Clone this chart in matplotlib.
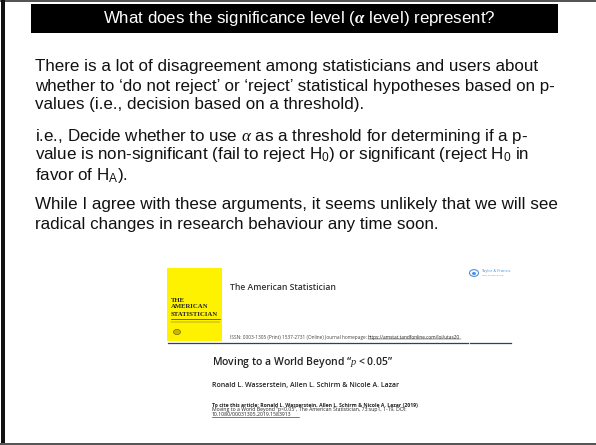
import matplotlib
matplotlib.use("Agg")
import matplotlib.pyplot as plt
from matplotlib.patches import Rectangle, Circle
from matplotlib.lines import Line2D

# slide content
title = r"What does the significance level ($\mathbfit{\alpha}$ level) represent?"
body_lines = [
    "There is a lot of disagreement among statisticians and users about",
    "whether to \u2018do not reject\u2019 or \u2018reject\u2019 statistical hypotheses based on p-",
    "values (i.e., decision based on a threshold).",
    r"i.e., Decide whether to use $\alpha$ as a threshold for determining if a p-",
    r"value is non-significant (fail to reject H$_0$) or significant (reject H$_0$ in",
    r"favor of H$_\mathrm{A}$).",
    "While I agree with these arguments, it seems unlikely that we will see",
    "radical changes in research behaviour any time soon.",
]
body_y = [67, 86, 105, 136, 155, 175, 205, 224]

cover_words = ["THE", "AMERICAN", "STATISTICIAN"]
journal = "The American Statistician"
issn = "ISSN: 0003-1305 (Print) 1537-2731 (Online) Journal homepage: "
issn_url = "https://amstat.tandfonline.com/loi/utas20"
paper_title = "Moving to a World Beyond \u201c$p$ < 0.05\u201d"
authors = "Ronald L. Wasserstein, Allen L. Schirm & Nicole A. Lazar"
cite_lines = [
    "To cite this article: Ronald L. Wasserstein, Allen L. Schirm & Nicole A. Lazar (2019)",
    "Moving to a World Beyond \u201cp<0.05\u201d, The American Statistician, 73:sup1, 1-19, DOI:",
    "10.1080/00031305.2019.1583913",
]

W, H = 596, 445
plt.rcParams["font.family"] = ["Liberation Sans", "DejaVu Sans"]
plt.rcParams["mathtext.fontset"] = "custom"
plt.rcParams["mathtext.rm"] = "Liberation Sans"
plt.rcParams["mathtext.it"] = "Liberation Serif:italic"
plt.rcParams["mathtext.bf"] = "Liberation Sans:bold"
plt.rcParams["mathtext.bfit"] = "Liberation Serif:italic:bold"

fig = plt.figure(figsize=(W / 100, H / 100), dpi=100)
fig.patch.set_facecolor("white")


def px(x, y):
    # pixel coords (from top-left) -> figure fraction
    return x / W, 1 - y / H


def rect(x0, y0, x1, y1, **kw):
    fig.patches.append(Rectangle(px(x0, y1), (x1 - x0) / W, (y1 - y0) / H,
                                 transform=fig.transFigure, **kw))


def hline(x0, x1, y, **kw):
    fig.lines.append(Line2D([x0 / W, x1 / W], [1 - y / H, 1 - y / H],
                            transform=fig.transFigure, **kw))


# slide frame
rect(0, 0, W, 1.5, color="#555555", lw=0)
rect(1, 0, 5, H, color="#111111", lw=0)
rect(0, H - 2.5, W, H, color="#555555", lw=0)

# title bar
rect(31, 4, 558, 33, color="black", lw=0)
fig.text(*px(299, 19), title, color="white", fontsize=12.2,
         ha="center", va="center")

# body text
for line, y in zip(body_lines, body_y):
    fig.text(*px(35, y), line, color="#111111", fontsize=12.25,
             ha="left", va="center")

# article first page snapshot
rect(167, 268, 222, 341, color="#fff200", lw=0)
for i, w in enumerate(cover_words):
    fig.text(*px(171, 300 + i * 7), w, fontsize=4.9, family="Liberation Serif",
             weight="bold", color="#222222", va="center")
hline(171, 220, 319, color="#333333", lw=0.5)
hline(171, 220, 322, color="#555555", lw=0.3)
fig.patches.append(Circle(px(177, 332), 3.5 / W, transform=fig.transFigure,
                          fc="#c9b800", ec="#555500", lw=0.4))

fig.text(*px(230, 287), journal, family="Open Sans", fontsize=6.2,
         weight="semibold", color="#333333", va="center")
fig.text(*px(230, 337), issn, family="Open Sans", fontsize=3.45,
         color="#444444", va="center")
fig.text(*px(368, 337), issn_url, family="Open Sans", fontsize=3.45,
         color="#222222", va="center")
hline(368, 461, 339.3, color="#222222", lw=0.3)

# Taylor & Francis logo
fig.patches.append(Circle(px(474, 273), 4.5 / W, transform=fig.transFigure,
                          fc="white", ec="#4a90e2", lw=0.8))
fig.patches.append(Circle(px(474, 273.5), 2 / W, transform=fig.transFigure,
                          fc="#4a90e2", ec="none"))
fig.text(*px(481, 271), "Taylor & Francis", family="Open Sans", fontsize=2.9,
         color="#4a90e2", va="center")
fig.text(*px(481, 275.5), "Taylor & Francis Group", family="Open Sans",
         fontsize=1.5, color="#4a90e2", va="center")

hline(168, 468, 342.5, color="#2c3e7a", lw=0.9)
hline(470, 511, 342.5, color="#2c3e7a", lw=0.9)

fig.text(*px(212, 362), paper_title, family="Open Sans", fontsize=7.5,
         weight="semibold", color="#222222", va="center")
fig.text(*px(212, 386), authors, family="Open Sans", fontsize=5.0,
         weight="semibold", color="#222222", va="center")
for i, line in enumerate(cite_lines):
    fig.text(*px(212, 405 + i * 4.6), line, family="Open Sans", fontsize=3.7,
             weight="bold" if i == 0 else "normal", color="#222222",
             va="center")
hline(212, 299, 416.9, color="#111111", lw=0.4)

fig.savefig("out.png", dpi=100, facecolor="white")
